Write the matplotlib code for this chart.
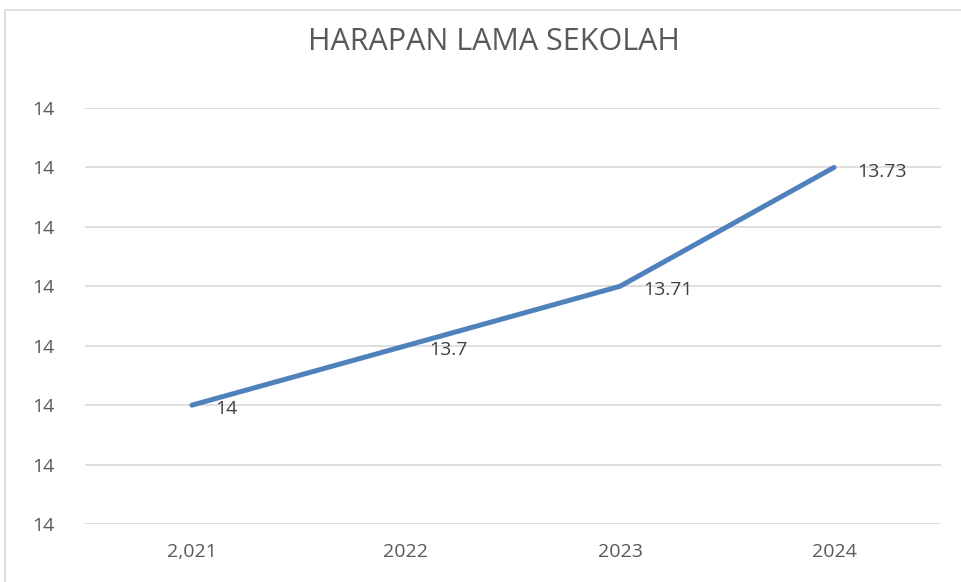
import matplotlib
matplotlib.use("Agg")
import matplotlib.pyplot as plt
from matplotlib.patches import Rectangle

years = ["2,021", "2022", "2023", "2024"]
values = [13.69, 13.70, 13.71, 13.73]
value_labels = ["14", "13.7", "13.71", "13.73"]
y_ticks = [13.67, 13.68, 13.69, 13.70, 13.71, 13.72, 13.73, 13.74]
y_tick_labels = ["14"] * len(y_ticks)
title = "HARAPAN LAMA SEKOLAH"

W, H = 961, 582
fig = plt.figure(figsize=(W / 100, H / 100), dpi=100)
fig.patch.set_facecolor("white")

# outer chart border
fig.patches.append(Rectangle((5 / W, -0.01), 1.0, (H - 10) / H + 0.01, transform=fig.transFigure,
                             fill=False, edgecolor="#d9d9d9", linewidth=1.2))

ax = fig.add_axes([85 / W, (H - 524) / H, (941 - 85) / W, (524 - 108) / H])
x = list(range(len(years)))
ax.plot(x, values, color="#4f81bd", linewidth=3.6, solid_capstyle="round", zorder=3)

ax.set_xlim(-0.5, len(years) - 0.5)
ax.set_ylim(y_ticks[0], y_ticks[-1])
ax.set_yticks(y_ticks)
ax.set_yticklabels(y_tick_labels)
ax.set_xticks(x)
ax.set_xticklabels(years)
ax.grid(axis="y", color="#d9d9d9", linewidth=1.2)
ax.set_axisbelow(True)
for s in ax.spines.values():
    s.set_visible(False)
ax.tick_params(length=0, labelsize=14, colors="#595959")
ax.tick_params(axis="y", pad=22)
ax.tick_params(axis="x", pad=14)
for lbl in ax.get_xticklabels() + ax.get_yticklabels():
    lbl.set_fontfamily("Open Sans")

for xi, v, t in zip(x, values, value_labels):
    ax.annotate(t, (xi, v), xytext=(17, -3), textcoords="offset points",
                ha="left", va="center", fontsize=14, color="#404040", family="Open Sans")

fig.text(494 / W, 1 - 42 / H, title, ha="center", va="center", fontsize=22,
         color="#595959", family="Open Sans")

fig.savefig("out.png", dpi=100)
